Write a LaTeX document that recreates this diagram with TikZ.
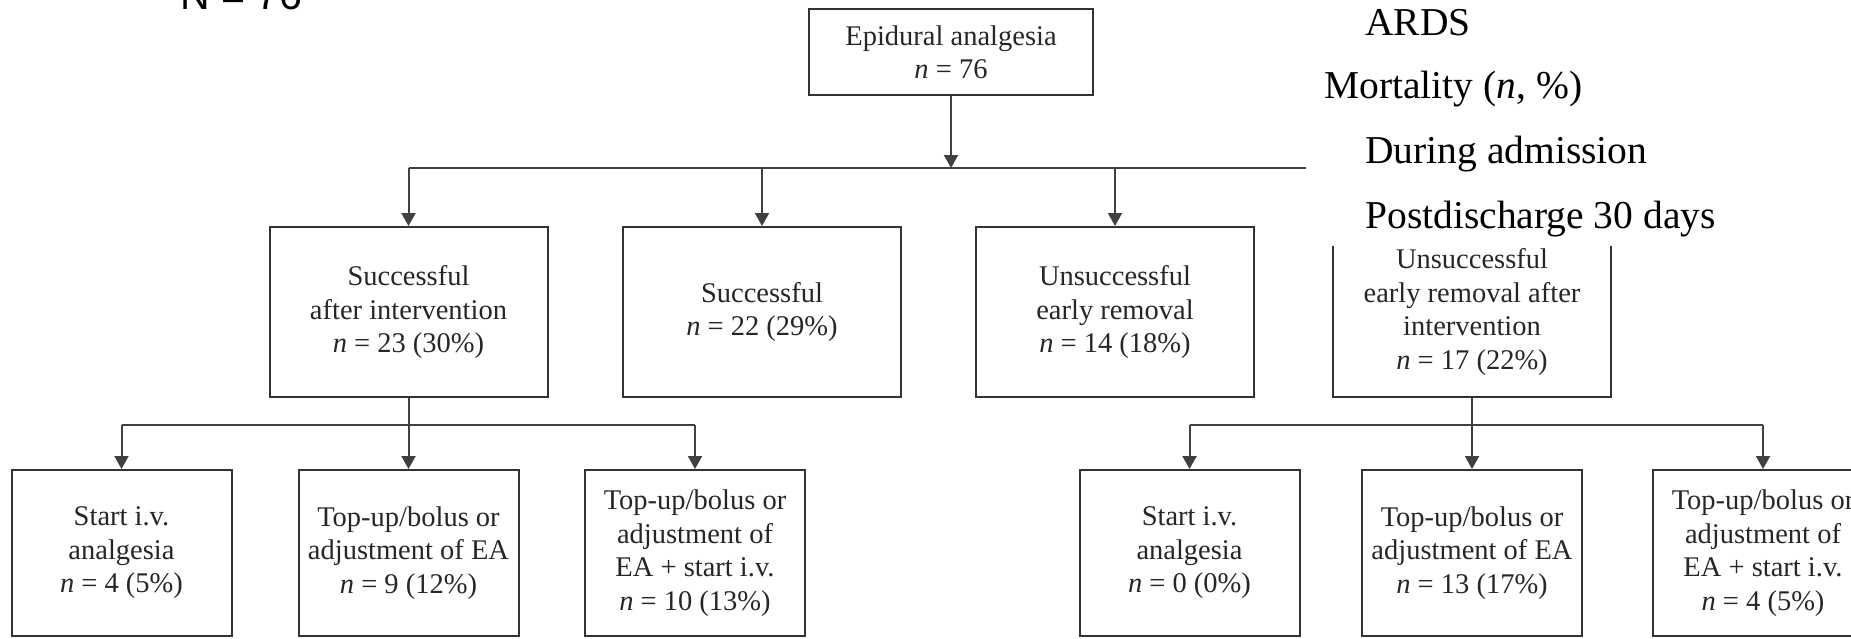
\documentclass[tikz,border=0pt]{standalone}
\usepackage{fontspec}
\setmainfont{Liberation Serif}
\newfontfamily\arialfont{Liberation Sans}
\usetikzlibrary{arrows.meta}

\begin{document}
\begin{tikzpicture}[
        x=0.5pt, y=-0.5pt,
        box/.style={rectangle, draw=black!80, line width=1pt, align=center, text=black!85, inner sep=0pt, font=\fontsize{14.25}{16.75}\selectfont},
        rootbox/.style={box, minimum width=142pt, minimum height=43pt},
        midbox/.style={box, minimum width=139pt, minimum height=85pt},
        lowbox/.style={box, minimum width=110pt, minimum height=83pt},
        arrow/.style={-{Triangle[width=7pt, length=6.5pt]}, draw=black!75, line width=1pt},
        link/.style={draw=black!75, line width=1pt},
        note/.style={anchor=base west, inner sep=0pt, font=\fontsize{19.75}{24}\selectfont}
    ]
        \clip (0,0) rectangle (1851,638);
        % Root
        \node[rootbox] (root) at (951,52) {Epidural analgesia\\\textit{n} = 76};
        % Outcomes
        \node[midbox] (succint) at (408.5,312) {Successful\\after intervention\\\textit{n} = 23 (30\%)};
        \node[midbox] (succ) at (762,312) {Successful\\\textit{n} = 22 (29\%)};
        \node[midbox] (unsucc) at (1115,312) {Unsuccessful\\early removal\\\textit{n} = 14 (18\%)};
        \node[midbox] (unsuccint) at (1472,312) {Unsuccessful\\early removal after\\intervention\\\textit{n} = 17 (22\%)};
        % Interventions, successful
        \node[lowbox] (ivl) at (121.5,553) {Start i.v.\\analgesia\\\textit{n} = 4 (5\%)};
        \node[lowbox] (adjl) at (408.5,553) {Top-up/bolus or\\adjustment of EA\\\textit{n} = 9 (12\%)};
        \node[lowbox] (bothl) at (695,553) {Top-up/bolus or\\adjustment of\\EA + start i.v.\\\textit{n} = 10 (13\%)};
        % Interventions, unsuccessful
        \node[lowbox] (ivr) at (1189.5,553) {Start i.v.\\analgesia\\\textit{n} = 0 (0\%)};
        \node[lowbox] (adjr) at (1472,553) {Top-up/bolus or\\adjustment of EA\\\textit{n} = 13 (17\%)};
        \node[lowbox] (bothr) at (1763,553) {Top-up/bolus or\\adjustment of\\EA + start i.v.\\\textit{n} = 4 (5\%)};
        % Arrows
        \coordinate (bus) at (951,168);
        \coordinate (busl) at (408.5,425);
        \coordinate (busr) at (1472,425);
        \draw[arrow] (root) -- (bus);
        \draw[link] (succint.north |- bus) -- (unsuccint.north |- bus);
        \foreach \n in {succint, succ, unsucc, unsuccint}
            \draw[arrow] (\n.north |- bus) -- (\n);
        \draw[link] (succint) -- (busl);
        \draw[link] (ivl.north |- busl) -- (bothl.north |- busl);
        \foreach \n in {ivl, adjl, bothl}
            \draw[arrow] (\n.north |- busl) -- (\n);
        \draw[link] (unsuccint) -- (busr);
        \draw[link] (ivr.north |- busr) -- (bothr.north |- busr);
        \foreach \n in {ivr, adjr, bothr}
            \draw[arrow] (\n.north |- busr) -- (\n);
        % Pasted table rows
        \fill[white] (1306,0) rectangle (1851,246);
        \node[note] (ards) at (1365,35) {ARDS};
        \node[note] (mort) at (1324,98) {Mortality (\textit{n}, \%)};
        \node[note] (adm) at (1365,163) {During admission};
        \node[note] (post) at (1365,228) {Postdischarge 30 days};
        \node[anchor=base west, inner sep=0pt, font=\arialfont\fontsize{20.5}{24}\selectfont] (total) at (180,9) {N = 76};
    \end{tikzpicture}
\end{document}
